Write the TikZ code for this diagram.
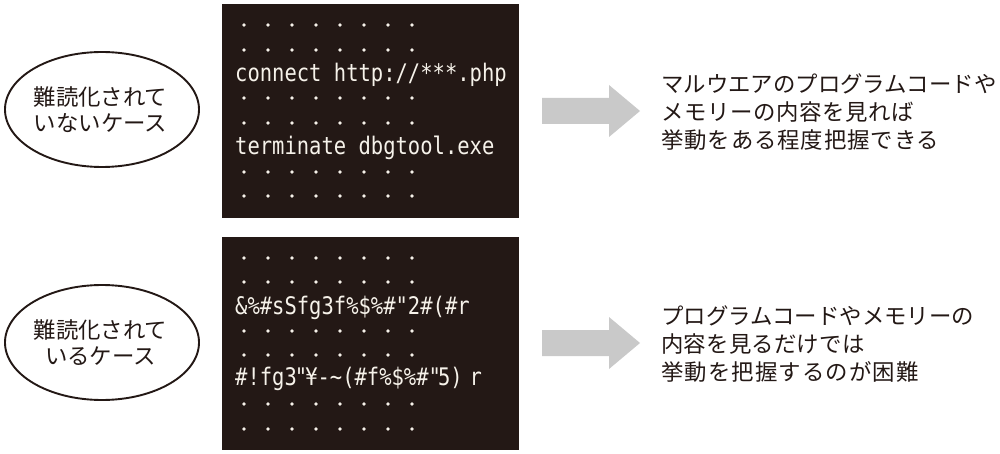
\documentclass[tikz,border=0pt]{standalone}
\usetikzlibrary{shapes.geometric}
\usepackage{fontspec}
\usepackage{graphicx}
\setmainfont{Noto Sans CJK JP}
\newfontfamily\codefont{DejaVu Sans Mono}
\definecolor{panel}{HTML}{231815}
\definecolor{ink}{HTML}{231815}
\definecolor{arrowgray}{HTML}{C9C9C9}
\definecolor{codewhite}{HTML}{F6F2EA}
\newcommand{\codeline}[1]{\scalebox{1}[1.18]{\codefont\fontsize{20.5}{24}\selectfont #1}}
\newcommand{\spacedtext}[2]{\addfontfeature{LetterSpace=#1}#2}
\begin{document}
\begin{tikzpicture}[x=1pt,y=-1pt,
  panelbox/.style={fill=panel,draw=none,inner sep=0pt,minimum width=297pt,minimum height=213.5pt,anchor=north west},
  casebubble/.style={ellipse,draw=ink,line width=1.9pt,fill=white,minimum width=194pt,minimum height=115pt,inner sep=0pt},
  caselabel/.style={text=ink,font=\fontsize{22.4}{26}\selectfont,align=center,inner sep=0pt},
  codetext/.style={text=codewhite,inner sep=0pt,anchor=base west},
  resulttext/.style={text=ink,font=\fontsize{22.4}{28}\selectfont,inner sep=0pt,anchor=base west},
  dotmark/.style={fill=codewhite,draw=none},
  blockarrow/.style={fill=arrowgray,draw=none}]
\useasboundingbox (0,0) rectangle (1000,454);
\fill[white] (0,0) rectangle (1000,454);
\node[panelbox] (top) at (221.5,4) {};
\node[panelbox] (bot) at (221.5,236.5) {};
\foreach \y in {25,50,98,123,172,196}
  \foreach \x in {244,268,292,316,340,364,388,412}
    \fill[dotmark] (\x,\y) circle (1.8);
\foreach \y in {258,282,331,355,404,429}
  \foreach \x in {244,268,292,316,340,364,388,412}
    \fill[dotmark] (\x,\y) circle (1.8);
\node[codetext] (c1) at (235,82) {\codeline{connect http://***.php}};
\node[codetext] (c2) at (235,155) {\codeline{terminate dbgtool.exe}};
\node[codetext] (c3) at (235,314) {\codeline{\&\%\#sSfg3f\%\$\%\#"2\#(\#r}};
\node[codetext] (c4) at (235,385.5) {\codeline{\#!fg3\hspace{-2pt}"\hspace{-2pt}¥-\string~(\#f\%\$\%\#"\hspace{-3pt}5)\hspace{7pt}r}};
\node[casebubble] (e1) at (102,109.5) {};
\node[casebubble] (e2) at (102,342.5) {};
\node[caselabel] (t1) at (100.5,110) {難読化されて\\いないケース};
\node[caselabel] (t2) at (100.5,343) {難読化されて\\いるケース};
\fill[blockarrow] (542,98) -- (609,98) -- (609,85) -- (640,111) -- (609,137) -- (609,124) -- (542,124) -- cycle;
\fill[blockarrow] (542,330) -- (609,330) -- (609,317) -- (640,343) -- (609,369) -- (609,356) -- (542,356) -- cycle;
\node[resulttext] (r1) at (661,93) {マルウエアのプログラムコードや};
\node[resulttext] (r2) at (661,121) {\spacedtext{2.7}{メモリーの内容を見れば}};
\node[resulttext] (r3) at (661,149) {\spacedtext{4}{挙動をある程度把握できる}};
\node[resulttext] (r4) at (661,324.5) {プログラムコードやメモリーの};
\node[resulttext] (r5) at (661,352.5) {\spacedtext{1}{内容を見るだけでは}};
\node[resulttext] (r6) at (661,380.5) {\spacedtext{5}{挙動を把握するのが困難}};
\end{tikzpicture}
\end{document}
